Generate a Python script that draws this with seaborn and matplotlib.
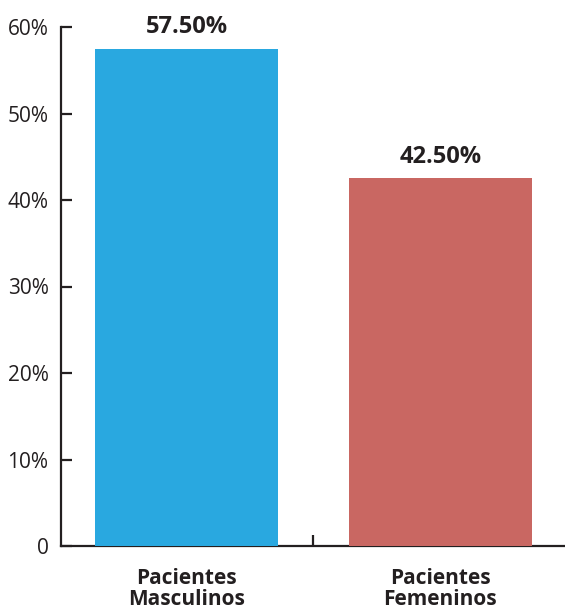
import matplotlib
matplotlib.use("Agg")
import matplotlib.pyplot as plt
import seaborn as sns
import pandas as pd
from matplotlib.ticker import FuncFormatter

categories = ["Pacientes\nMasculinos", "Pacientes\nFemeninos"]
values = [57.5, 42.5]
colors = ["#29A8E0", "#C96762"]
y_ticks = [0, 10, 20, 30, 40, 50, 60]

sns.set_theme(style="white")
plt.rcParams["font.family"] = ["Open Sans", "DejaVu Sans"]
ink = "#231F20"

df = pd.DataFrame({"grupo": categories, "pct": values})

fig = plt.figure(figsize=(5.65, 6.12), dpi=100)
ax = fig.add_axes([61 / 565, 66 / 612, 1 - 61 / 565 + 0.002, 519 / 612])

sns.barplot(data=df, x="grupo", y="pct", hue="grupo", palette=colors,
            width=0.72, saturation=1, legend=False, ax=ax, zorder=3,
            linewidth=0, edgecolor="none")

ax.set_xlim(-0.494, 1.495)
ax.set_ylim(0, 60)
ax.set_xlabel("")
ax.set_ylabel("")

# value labels above each bar
for i, v in enumerate(values):
    ax.annotate(f"{v:.2f}%", (i, v), xytext=(0, 7), textcoords="offset points",
                ha="center", va="bottom", fontsize=17, fontweight="bold", color=ink,
                annotation_clip=False)

ax.set_yticks(y_ticks)
ax.yaxis.set_major_formatter(FuncFormatter(lambda v, p: "0" if v == 0 else f"{v:.0f}%"))
ax.tick_params(axis="y", direction="in", length=8, width=1.6, color=ink,
               labelsize=15, labelcolor=ink, pad=9, left=True)

ax.set_xticks([0.5], minor=True)
ax.tick_params(axis="x", which="minor", direction="in", length=8, width=1.6,
               color=ink, bottom=True)
ax.tick_params(axis="x", which="major", length=0, pad=16, labelsize=15,
               labelcolor=ink)
ax.set_xticks([0, 1])
ax.set_xticklabels(categories)
for lab in ax.get_xticklabels():
    lab.set_fontweight("bold")
    lab.set_linespacing(1.0)

for side in ["top", "right"]:
    ax.spines[side].set_visible(False)
for side in ["left", "bottom"]:
    ax.spines[side].set_color(ink)
    ax.spines[side].set_linewidth(1.6)
    ax.spines[side].set_zorder(2)

fig.savefig("out.png", dpi=100)
